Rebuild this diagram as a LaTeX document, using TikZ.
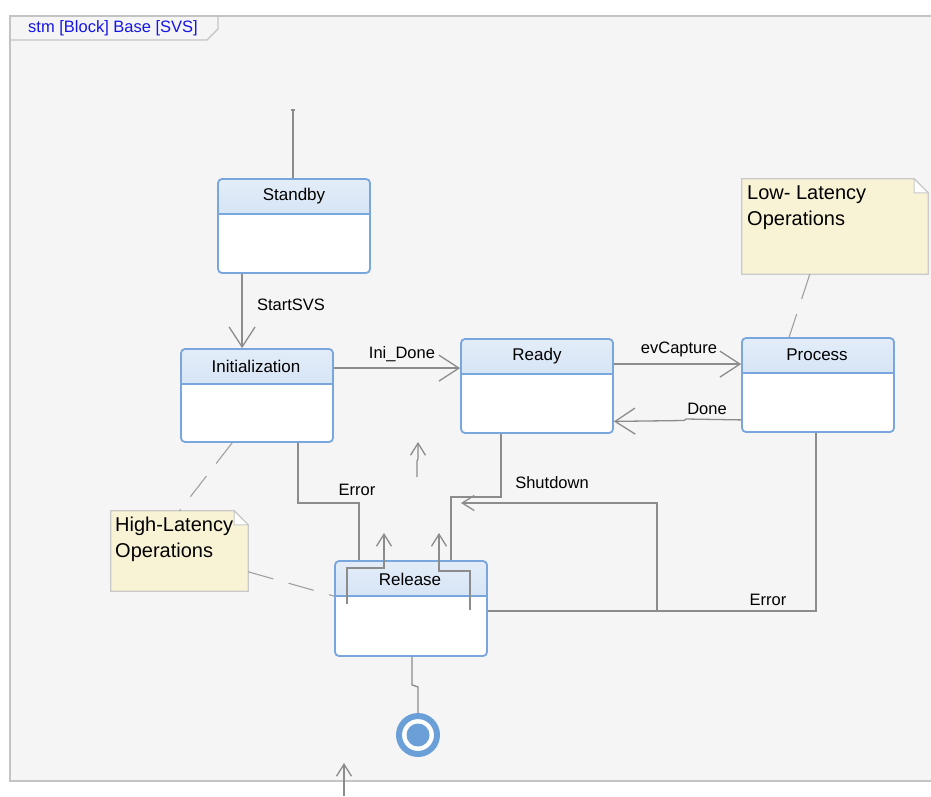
\documentclass[tikz,border=0pt]{standalone}
\usepackage{fontspec}
\setmainfont{Liberation Sans}
\usetikzlibrary{arrows.meta,calc}

\definecolor{bgc}{HTML}{F5F5F5}
\definecolor{framec}{HTML}{C4C4C4}
\definecolor{linec}{HTML}{8C8C8C}
\definecolor{stborder}{HTML}{79A6DC}
\definecolor{hdrtop}{HTML}{E3EDF9}
\definecolor{hdrbot}{HTML}{C2D6EE}
\definecolor{notefill}{HTML}{F9F3D6}
\definecolor{noteborder}{HTML}{C9C9C9}
\definecolor{notelink}{HTML}{A0A0A0}
\definecolor{tabtext}{HTML}{1515E6}
\definecolor{finalc}{HTML}{6B9FD8}

\begin{document}
\begin{tikzpicture}[x=1pt,y=-1pt,
  statebox/.style={draw=stborder, line width=1.8pt, fill=white, rounded corners=4pt,
    minimum width=152pt, minimum height=94pt, inner sep=0pt,
    path picture={
      \shade[top color=hdrtop, bottom color=hdrbot]
        (path picture bounding box.north west) rectangle
        ([yshift=-35pt]path picture bounding box.north east);
      \draw[stborder, line width=1.4pt]
        ([yshift=-35pt]path picture bounding box.north west) --
        ([yshift=-35pt]path picture bounding box.north east);
    }},
  statename/.style={font=\fontsize{17}{20}\selectfont, inner sep=0pt, anchor=center},
  translabel/.style={font=\fontsize{16.5}{19}\selectfont, inner sep=0pt, anchor=center},
  notetext/.style={font=\fontsize{20}{26}\selectfont, inner sep=0pt, anchor=north west, align=left},
  conn/.style={draw=linec, line width=1.3pt},
  bigtip/.style={-{Straight Barb[length=20pt,width=26pt]}},
  smalltip/.style={-{Straight Barb[length=12pt,width=15pt]}},
  notelinkstyle/.style={draw=notelink, line width=1.1pt, dash pattern=on 26pt off 16pt},
]
\useasboundingbox (0,0) rectangle (931,796);

% frame of the state machine diagram
\fill[white] (0,0) rectangle (931,796);
\fill[bgc] (10,16) rectangle (931,781);
\draw[framec, line width=1.5pt] (931,16) -- (10,16) -- (10,781) -- (931,781);
\draw[framec, line width=1.2pt] (10,40) -- (207,40) -- (218,29) -- (218,16);
\node[font=\fontsize{16.5}{19}\selectfont, text=tabtext, inner sep=0pt] (tab) at (113,28) {stm [Block] Base [SVS]};

% notes (drawn first so the links sit behind the states)
\node[minimum width=137pt, minimum height=80pt, inner sep=0pt] (hinote) at (179.5,551) {};
\filldraw[fill=notefill, draw=noteborder, line width=1.3pt]
  (hinote.north west) -- ($(hinote.north east)+(-14,0)$) -- ($(hinote.north east)+(0,14)$)
  -- (hinote.south east) -- (hinote.south west) -- cycle;
\filldraw[fill=white, draw=noteborder, line width=1pt]
  ($(hinote.north east)+(-14,0)$) -- ($(hinote.north east)+(0,14)$) -- ($(hinote.north east)+(-14,14)$) -- cycle;
\node[notetext] (hinotetext) at (115,517) {High-Latency\\Operations};

\node[minimum width=186pt, minimum height=95pt, inner sep=0pt] (lonote) at (835,226.5) {};
\filldraw[fill=notefill, draw=noteborder, line width=1.3pt]
  (lonote.north west) -- ($(lonote.north east)+(-14,0)$) -- ($(lonote.north east)+(0,14)$)
  -- (lonote.south east) -- (lonote.south west) -- cycle;
\filldraw[fill=white, draw=noteborder, line width=1pt]
  ($(lonote.north east)+(-14,0)$) -- ($(lonote.north east)+(0,14)$) -- ($(lonote.north east)+(-14,14)$) -- cycle;
\node[notetext] (lonotetext) at (747,186) {Low- Latency\\Operations};

% states
\node[statebox] (standby) at (294,226) {};
\node[statebox, minimum height=93pt] (init) at (257,395.5) {};
\node[statebox] (ready) at (537,386) {};
\node[statebox] (process) at (818,385) {};
\node[statebox, minimum height=95pt] (release) at (411,608.5) {};

% note links
\draw[notelinkstyle] ($(init.south west)+(52,0)$) -- (hinote.north);
\draw[notelinkstyle] ($(hinote.north east)+(0,61)$) -- ($(release.north west)+(0,36)$);
\draw[notelinkstyle] ($(lonote.south west)+(68,0)$) -- ($(process.north west)+(48,0)$);

% state names
\node[statename] (standbyname) at (294,196) {Standby};
\node[statename] (initname) at (256,366) {Initialization};
\node[statename] (readyname) at (537,356) {Ready};
\node[statename] (processname) at (817,355) {Process};
\node[statename] (releasename) at (410,579) {Release};

% final state
\node[circle, draw=finalc, line width=6pt, fill=white, minimum size=38pt, inner sep=0pt] (final) at (418,735) {};
\node[circle, fill=finalc, minimum size=23pt, inner sep=0pt] (finaldot) at (final.center) {};

% initial transition
\coordinate (start) at (293,110);
\draw[conn] (start) -- (start |- standby.north);
\draw[conn] ($(start)+(-2,0)$) -- ($(start)+(2,0)$);

% transitions
\draw[conn, bigtip] ($(standby.south west)+(25,0)$) -- ($(init.north west)+(62,0)$);
\node[translabel] (lstart) at (291,305) {StartSVS};

\draw[conn, bigtip] ($(init.north east)+(0,20)$) -- ($(ready.north west)+(0,30)$);
\node[translabel] (linidone) at (402,354) {Ini\_Done};

\draw[conn, bigtip] ($(ready.north east)+(0,26)$) -- ($(process.north west)+(0,27)$);
\node[translabel] (lcapture) at (679,349) {evCapture};

\coordinate (donebend) at (686,419);
\draw[conn, bigtip] ($(process.south west)+(0,-13)$) -- (donebend) -- ++(-2,1.5) -- ($(ready.south east)+(0,-12.5)$);
\node[translabel] (ldone) at (707,409) {Done};

\draw[conn] ($(init.south west)+(118,0)$) -- ++(0,60) -| ($(release.north west)+(25,0)$);
\node[translabel] (lerror1) at (357,490) {Error};

\draw[conn] ($(ready.south west)+(41,0)$) -- ++(0,63) -| ($(release.north west)+(117,0)$);
\node[translabel] (lshutdown) at (552,483) {Shutdown};

\draw[conn] ($(process.south west)+(75,0)$) |- ($(release.north east)+(0,51)$);
\node[translabel] (lerror2) at (768,600) {Error};

\coordinate (loopfoot) at (657,612);
\coordinate (looptip) at (461,503);
\draw[conn, smalltip] (loopfoot) |- (looptip);

% short stubs around Release
\coordinate (stubA) at (347,604);
\coordinate (stubAtip) at (384,533);
\draw[conn, smalltip] (stubA) |- (stubAtip |- 0,568) -- (stubAtip);

\coordinate (stubB) at (470,610);
\coordinate (stubBtip) at (439,533);
\draw[conn, smalltip] (stubB) |- (stubBtip |- 0,571) -- (stubBtip);

\coordinate (stubC) at (417,477);
\coordinate (stubCtip) at (418,442);
\draw[conn, smalltip] (stubC) -- (417,461) -- (418,459) -- (stubCtip);

% to the final state
\draw[conn] ($(release.south)+(1,0)$) -- ++(0,28) -- ++(6,2) |- (final.north);

% entry stub at the bottom edge
\coordinate (bottomfoot) at (344,796);
\coordinate (bottomtip) at (344,763);
\draw[conn, smalltip] (bottomfoot) -- (bottomtip);
\end{tikzpicture}
\end{document}
